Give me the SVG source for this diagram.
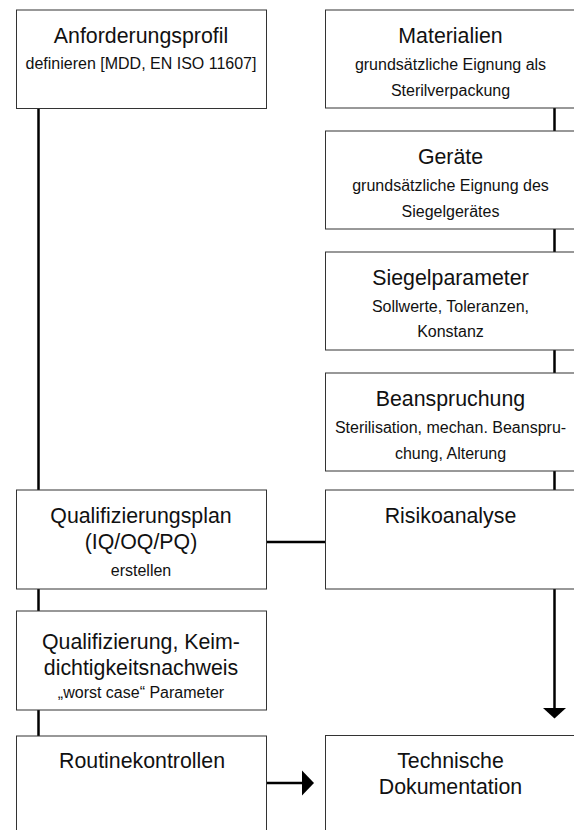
<svg xmlns="http://www.w3.org/2000/svg" width="574" height="830" viewBox="0 0 574 830">
<style>
.box{fill:#fff;stroke:#333;stroke-width:1}
.t{font-family:"Liberation Sans",Arial,sans-serif;font-size:21.33px;fill:#111;text-anchor:middle}
.s{font-family:"Liberation Sans",Arial,sans-serif;font-size:16px;fill:#111;text-anchor:middle}
.c{stroke:#000;stroke-width:2.5;fill:none}
.h{fill:#000}
</style>
<rect width="574" height="830" fill="#fff"/>
<g id="connectors">
<line class="c" x1="38.5" y1="108.5" x2="38.5" y2="490"/>
<line class="c" x1="38.5" y1="589" x2="38.5" y2="611"/>
<line class="c" x1="38.5" y1="710" x2="38.5" y2="736"/>
<line class="c" x1="554.5" y1="108" x2="554.5" y2="131"/>
<line class="c" x1="554.5" y1="229" x2="554.5" y2="252"/>
<line class="c" x1="554.5" y1="350" x2="554.5" y2="373"/>
<line class="c" x1="554.5" y1="471" x2="554.5" y2="490"/>
<line class="c" x1="266.5" y1="542" x2="325.5" y2="542"/>
<line class="c" x1="554.5" y1="589" x2="554.5" y2="709"/>
<polygon class="h" points="543,708 566,708 554.5,718.5"/>
<line class="c" x1="266.5" y1="783" x2="303" y2="783"/>
<polygon class="h" points="302,770.5 314,783 302,795.5"/>
</g>
<g id="anforderungsprofil">
<rect class="box" x="16.5" y="10" width="250" height="98.5"/>
<text class="t" x="141" y="43">Anforderungsprofil</text>
<text class="s" x="141" y="69">definieren [MDD, EN ISO 11607]</text>
</g>
<g id="materialien">
<rect class="box" x="325.5" y="10" width="250" height="98"/>
<text class="t" x="450.5" y="42.5">Materialien</text>
<text class="s" x="450.5" y="69.5">grundsätzliche Eignung als</text>
<text class="s" x="450.5" y="96">Sterilverpackung</text>
</g>
<g id="geraete">
<rect class="box" x="325.5" y="131" width="250" height="98"/>
<text class="t" x="450.5" y="163.5">Geräte</text>
<text class="s" x="450.5" y="190.5">grundsätzliche Eignung des</text>
<text class="s" x="450.5" y="216.5">Siegelgerätes</text>
</g>
<g id="siegelparameter">
<rect class="box" x="325.5" y="252" width="250" height="98"/>
<text class="t" x="450.5" y="284.5">Siegelparameter</text>
<text class="s" x="450.5" y="311.5">Sollwerte, Toleranzen,</text>
<text class="s" x="450.5" y="337">Konstanz</text>
</g>
<g id="beanspruchung">
<rect class="box" x="325.5" y="373" width="250" height="98"/>
<text class="t" x="450.5" y="405.5">Beanspruchung</text>
<text class="s" x="450.5" y="433">Sterilisation, mechan. Beanspru-</text>
<text class="s" x="450.5" y="458.5">chung, Alterung</text>
</g>
<g id="qualifizierungsplan">
<rect class="box" x="16.5" y="490" width="250" height="99"/>
<text class="t" x="141" y="522.5">Qualifizierungsplan</text>
<text class="t" x="141" y="549">(IQ/OQ/PQ)</text>
<text class="s" x="141" y="575.5">erstellen</text>
</g>
<g id="risikoanalyse">
<rect class="box" x="325.5" y="490" width="250" height="99"/>
<text class="t" x="450.5" y="522.5">Risikoanalyse</text>
</g>
<g id="qualifizierung">
<rect class="box" x="16.5" y="611" width="250" height="99"/>
<text class="t" x="141" y="648.5">Qualifizierung, Keim-</text>
<text class="t" x="141" y="675">dichtigkeitsnachweis</text>
<text class="s" x="141" y="697.5">„worst case“ Parameter</text>
</g>
<g id="routinekontrollen">
<rect class="box" x="16.5" y="736" width="250" height="100"/>
<text class="t" x="142" y="768">Routinekontrollen</text>
</g>
<g id="technische-dokumentation">
<rect class="box" x="325.5" y="735.5" width="250" height="100"/>
<text class="t" x="450.5" y="768">Technische</text>
<text class="t" x="450.5" y="794">Dokumentation</text>
</g>
</svg>
